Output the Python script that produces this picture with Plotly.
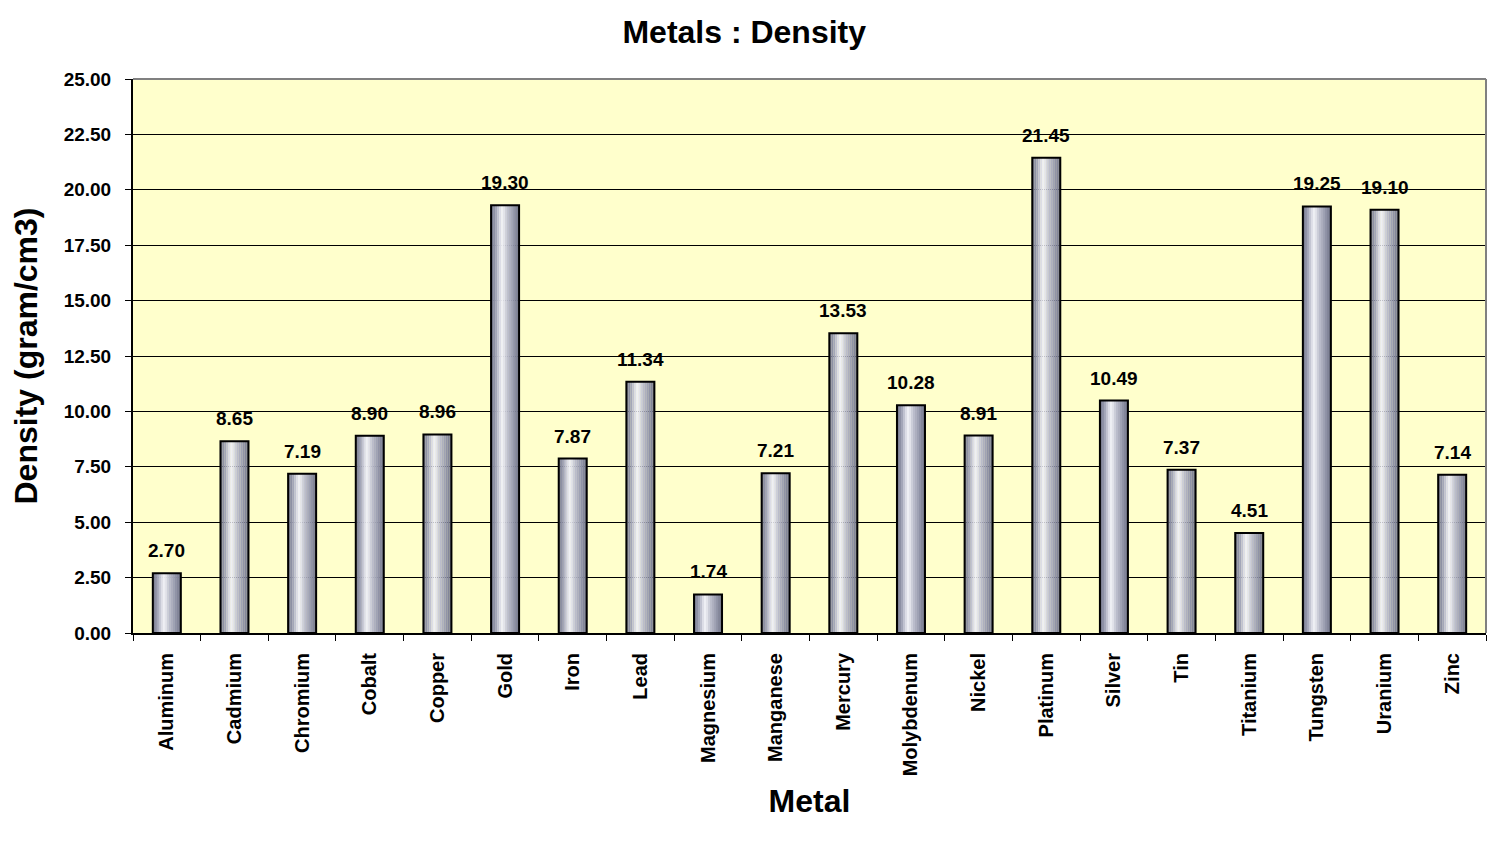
import plotly.graph_objects as go

# Données
metals = ["Aluminum", "Cadmium", "Chromium", "Cobalt", "Copper", "Gold", "Iron",
          "Lead", "Magnesium", "Manganese", "Mercury", "Molybdenum", "Nickel",
          "Platinum", "Silver", "Tin", "Titanium", "Tungsten", "Uranium", "Zinc"]
density = [2.70, 8.65, 7.19, 8.90, 8.96, 19.30, 7.87, 11.34, 1.74, 7.21,
           13.53, 10.28, 8.91, 21.45, 10.49, 7.37, 4.51, 19.25, 19.10, 7.14]
y_ticks = [0, 2.5, 5, 7.5, 10, 12.5, 15, 17.5, 20, 22.5, 25]

FONT = "Liberation Sans"
BAR_W = 0.414

# dégradé horizontal des barres (bandes étroites superposées)
shades = ["#7c7f93", "#8d90a4", "#a3a6b8", "#c0c2d0", "#dcdde6", "#eeeff4",
          "#e2e3ea", "#ccced9", "#babccb", "#adafbf", "#9fa2b4", "#9093a7",
          "#83869a", "#75788c"]

fig = go.Figure()

n = len(shades)
for i, col in enumerate(shades):
    fig.add_trace(go.Bar(
        x=metals, y=density,
        width=BAR_W / n + 0.002,
        offset=-BAR_W / 2 + i * BAR_W / n,
        marker=dict(color=col, line_width=0),
        hoverinfo="skip", showlegend=False
    ))

# contour
fig.add_trace(go.Bar(
    x=metals, y=density,
    width=BAR_W, offset=-BAR_W / 2,
    marker=dict(color="rgba(0,0,0,0)", line=dict(color="black", width=2)),
    showlegend=False
))

# étiquettes de valeurs
for m, v in zip(metals, density):
    fig.add_annotation(x=m, y=v, text=f"<b>{v:.2f}</b>", showarrow=False,
                       yanchor="bottom", yshift=10,
                       font=dict(family=FONT, size=19, color="black"))

fig.update_layout(
    barmode="overlay",
    width=1501, height=854,
    paper_bgcolor="white",
    plot_bgcolor="#ffffcc",
    margin=dict(l=125, r=23, t=71, b=229),
    font=dict(family=FONT, color="black"),
    title=dict(text="<b>Metals : Density</b>", x=0.4905, xanchor="center",
               y=0.972, yanchor="middle",
               font=dict(family=FONT, size=32, color="black")),
)

fig.update_yaxes(
    range=[0, 25], tickvals=y_ticks,
    ticktext=[f"<b>{v:.2f}</b>" for v in y_ticks],
    tickfont=dict(family=FONT, size=19, color="black"),
    ticklabelstandoff=10,
    showgrid=True, gridcolor="black", gridwidth=1,
    showline=True, linecolor="black", linewidth=2,
    ticks="outside", ticklen=6, tickcolor="black",
    zeroline=False,
    title=dict(text="<b>Density (gram/cm3)</b>",
               font=dict(family=FONT, size=32, color="black"), standoff=16),
)

fig.update_xaxes(
    tickvals=metals,
    ticktext=[f"<b>{m}</b>" for m in metals],
    tickangle=-90,
    tickfont=dict(family=FONT, size=20, color="black"),
    ticklabelstandoff=10,
    showline=True, linecolor="black", linewidth=2,
    ticks="outside", tickson="boundaries", ticklen=6, tickcolor="black",
    title=dict(text="<b>Metal</b>",
               font=dict(family=FONT, size=32, color="black"), standoff=14),
)

# bordure grise haut/droite de la zone de tracé
fig.add_shape(type="line", xref="paper", yref="paper", x0=0, x1=1, y0=1, y1=1,
              line=dict(color="#808080", width=2))
fig.add_shape(type="line", xref="paper", yref="paper", x0=1, x1=1, y0=0, y1=1,
              line=dict(color="#808080", width=2))

fig.write_html("out.html")
